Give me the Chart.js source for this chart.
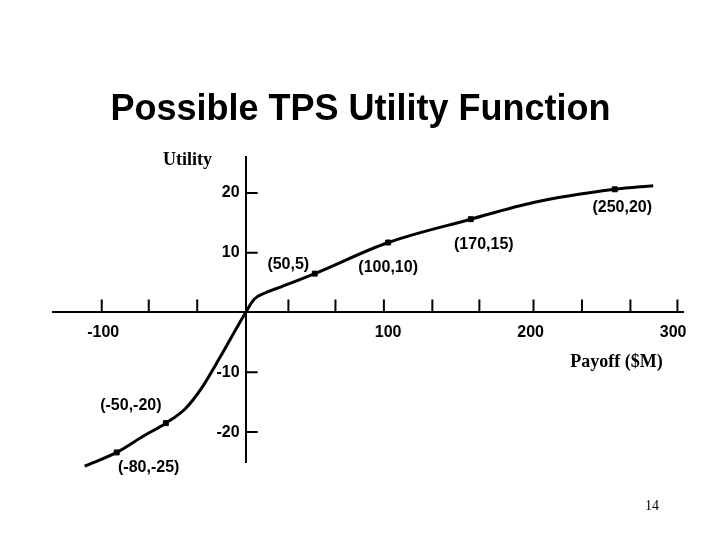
<!DOCTYPE html>
<html>
<head>
<meta charset="utf-8">
<script src="https://cdn.jsdelivr.net/npm/chart.js@4.4.1/dist/chart.umd.min.js"></script>
<style>
  body { margin: 0; background: #fff; }
  #wrap { width: 720px; height: 540px; }
</style>
</head>
<body>
<div id="wrap"><canvas id="utilityChart" width="720" height="540"></canvas></div>
<script>
// curve (payoff in $M, utility)
const payoff  = [-113, -90.5, -72, -56, -42, -30, -18, 0, 6, 14, 25, 48.5, 100, 158, 202, 259, 286];
const utility = [-25.7, -23.4, -20.7, -18.5, -16, -12.3, -7.5, 0, 2.2, 3.3, 4.3, 6.5, 11.7, 15.6, 18.4, 20.6, 21.2];

// marked points and their captions
const markPayoff  = [-90.5, -56, 48.5, 100, 158, 259];
const markUtility = [-23.4, -18.5, 6.5, 11.7, 15.6, 20.6];
const markLabels  = ['(-80,-25)', '(-50,-20)', '(50,5)', '(100,10)', '(170,15)', '(250,20)'];

// axis ticks
const xTickLabels = [-100, 100, 200, 300];
const xTickMarks  = [-101, -68, -34, 30, 63, 97, 131, 164, 202, 236, 270, 303];
const yTickLabels = [-20, -10, 10, 20];

// where each caption sits relative to its point (px)
const labelOffsets = [[32, 15.5], [-35, -18], [-26.5, -9.3], [0, 25], [13, 25], [7.5, 18.5]];

const sansBold = '"Liberation Sans", Arial, sans-serif';
const serif = '"Liberation Serif", "Times New Roman", serif';

// tick marks point inwards on this slide, so draw them by hand
const tickMarks = {
  id: 'tickMarks',
  afterDraw(chart) {
    const { ctx } = chart;
    const xs = chart.scales.x, ys = chart.scales.y;
    const x0 = xs.getPixelForValue(0), y0 = ys.getPixelForValue(0);
    ctx.save();
    ctx.strokeStyle = '#000';
    ctx.lineWidth = 2;
    ctx.beginPath();
    xTickMarks.forEach(v => {
      const px = xs.getPixelForValue(v);
      ctx.moveTo(px, y0);
      ctx.lineTo(px, y0 - 13);
    });
    yTickLabels.forEach(v => {
      const py = ys.getPixelForValue(v);
      ctx.moveTo(x0, py);
      ctx.lineTo(x0 + 12, py);
    });
    ctx.stroke();

    // y labels sit left of the centred axis
    ctx.fillStyle = '#000';
    ctx.font = 'bold 16px ' + sansBold;
    ctx.textAlign = 'right';
    ctx.textBaseline = 'middle';
    yTickLabels.forEach(v => {
      ctx.fillText(String(v), x0 - 6, ys.getPixelForValue(v));
    });
    ctx.restore();
  }
};

// title, axis captions, point captions and slide number
const slideText = {
  id: 'slideText',
  afterDraw(chart) {
    const { ctx } = chart;
    const xs = chart.scales.x, ys = chart.scales.y;
    ctx.save();
    ctx.fillStyle = '#000';
    ctx.textAlign = 'center';
    ctx.textBaseline = 'alphabetic';

    ctx.font = 'bold 36px ' + sansBold;
    ctx.fillText('Possible TPS Utility Function', 360.5, 120);

    ctx.font = 'bold 18px ' + serif;
    ctx.fillText('Utility', 187.5, 165);
    ctx.fillText('Payoff ($M)', 616.5, 367);

    ctx.font = '14px ' + serif;
    ctx.fillText('14', 652, 509.5);

    ctx.font = 'bold 16px ' + sansBold;
    ctx.textBaseline = 'middle';
    markLabels.forEach((txt, i) => {
      const px = xs.getPixelForValue(markPayoff[i]) + labelOffsets[i][0];
      const py = ys.getPixelForValue(markUtility[i]) + labelOffsets[i][1];
      ctx.fillText(txt, px, py);
    });
    ctx.restore();
  }
};

const ctx = document.getElementById('utilityChart').getContext('2d');
const utilityChart = new Chart(ctx, {
  type: 'scatter',
  data: {
    datasets: [
      {
        label: 'Utility',
        data: payoff.map((x, i) => ({ x: x, y: utility[i] })),
        showLine: true,
        borderColor: '#000',
        borderWidth: 3,
        pointRadius: 0,
        cubicInterpolationMode: 'monotone',
        clip: false
      },
      {
        label: 'Marked points',
        data: markPayoff.map((x, i) => ({ x: x, y: markUtility[i] })),
        showLine: false,
        pointStyle: 'rect',
        pointRadius: 3.5,
        backgroundColor: '#000',
        borderColor: '#000',
        clip: false
      }
    ]
  },
  options: {
    responsive: false,
    animation: false,
    layout: { padding: { left: 53, right: 37, top: 157, bottom: 78 } },
    plugins: {
      legend: { display: false },
      title: { display: false },
      tooltip: { enabled: false }
    },
    scales: {
      x: {
        type: 'linear',
        min: -135.2,
        max: 306.9,
        position: { y: 0 },
        afterBuildTicks: scale => { scale.ticks = xTickLabels.map(v => ({ value: v })); },
        grid: { display: false, drawTicks: false },
        border: { display: true, color: '#000', width: 2 },
        ticks: {
          color: '#000',
          padding: 11,
          maxRotation: 0,
          autoSkip: false,
          font: { family: sansBold, size: 16, weight: 'bold' }
        }
      },
      y: {
        type: 'linear',
        min: -25,
        max: 26,
        position: { x: 0 },
        afterBuildTicks: scale => { scale.ticks = yTickLabels.map(v => ({ value: v })); },
        grid: { display: false, drawTicks: false },
        border: { display: true, color: '#000', width: 2 },
        ticks: { display: false }
      }
    }
  },
  plugins: [tickMarks, slideText]
});
</script>
</body>
</html>
